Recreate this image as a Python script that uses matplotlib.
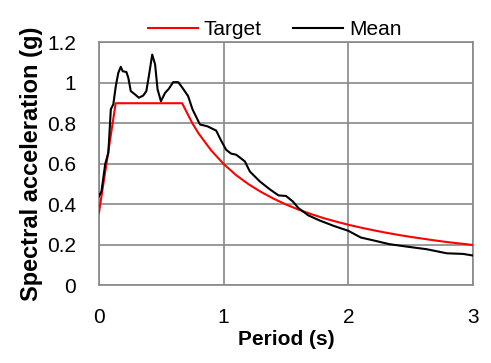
import matplotlib
matplotlib.use("Agg")
import matplotlib.pyplot as plt

plt.rcParams['font.family'] = ['Liberation Sans', 'DejaVu Sans']

# Target spectrum
t_target = [0.0, 0.134, 0.667, 0.75, 0.8, 0.9, 1.0, 1.1, 1.2, 1.3, 1.4, 1.5, 1.6, 1.7,
            1.8, 1.9, 2.0, 2.1, 2.2, 2.3, 2.4, 2.5, 2.6, 2.7, 2.8, 2.9, 3.0]
sa_target = [0.36, 0.9, 0.9, 0.8, 0.75, 0.667, 0.6, 0.545, 0.5, 0.462, 0.429, 0.4, 0.375, 0.353,
             0.333, 0.316, 0.3, 0.286, 0.273, 0.261, 0.25, 0.24, 0.231, 0.222, 0.214, 0.207, 0.2]

# Mean spectrum of the records
t_mean = [0.0, 0.02, 0.05, 0.075, 0.095, 0.115, 0.135, 0.155, 0.175, 0.19, 0.22, 0.235,
          0.255, 0.29, 0.32, 0.355, 0.38, 0.40, 0.427, 0.45, 0.47, 0.497, 0.53, 0.56,
          0.595, 0.635, 0.665, 0.715, 0.75, 0.79, 0.81, 0.87, 0.94, 0.98, 1.02, 1.06,
          1.10, 1.17, 1.21, 1.29, 1.37, 1.44, 1.50, 1.555, 1.6, 1.68, 1.77, 1.88, 2.0,
          2.1, 2.22, 2.33, 2.47, 2.63, 2.79, 2.92, 3.0]
sa_mean = [0.44, 0.465, 0.60, 0.655, 0.87, 0.895, 0.985, 1.05, 1.08, 1.058, 1.054, 1.026,
           0.96, 0.943, 0.927, 0.938, 0.96, 1.034, 1.14, 1.092, 0.968, 0.91, 0.951, 0.971,
           1.004, 1.004, 0.98, 0.935, 0.87, 0.82, 0.795, 0.786, 0.765, 0.715, 0.67, 0.651,
           0.646, 0.613, 0.563, 0.514, 0.475, 0.445, 0.442, 0.415, 0.382, 0.346, 0.321, 0.295, 0.27,
           0.237, 0.22, 0.204, 0.192, 0.179, 0.159, 0.156, 0.148]

x_ticks = [0, 1, 2, 3]
y_ticks = [0, 0.2, 0.4, 0.6, 0.8, 1.0, 1.2]
y_labels = ['0', '0.2', '0.4', '0.6', '0.8', '1', '1.2']

fig = plt.figure(figsize=(4.91, 3.63), dpi=100)
ax = fig.add_axes([0.2016, 0.2135, 0.7617, 0.6695])

ax.plot(t_target, sa_target, color='#ff0000', lw=1.5, label='Target', zorder=3)
ax.plot(t_mean, sa_mean, color='black', lw=1.5, label='Mean', zorder=3)

ax.set_xlim(0, 3)
ax.set_ylim(0, 1.2)
ax.set_xticks(x_ticks)
ax.set_yticks(y_ticks)
ax.set_yticklabels(y_labels)
ax.tick_params(length=0, labelsize=15, pad=16.5)
ax.grid(True, color='#888888', lw=1.2)
ax.set_axisbelow(True)
for s in ax.spines.values():
    s.set_color('#888888')
    s.set_linewidth(1.2)

ax.set_xlabel('Period (s)', fontsize=15, fontweight='bold', labelpad=2)
ax.set_ylabel('Spectral acceleration (g)', fontsize=17, fontweight='bold', labelpad=3)

ax.legend(loc='lower center', bbox_to_anchor=(0.47, 0.98), ncol=2, frameon=False,
          fontsize=15, handlelength=2.4, handletextpad=0.3, columnspacing=1.5,
          borderaxespad=0.0)

fig.savefig('out.png', dpi=100)
